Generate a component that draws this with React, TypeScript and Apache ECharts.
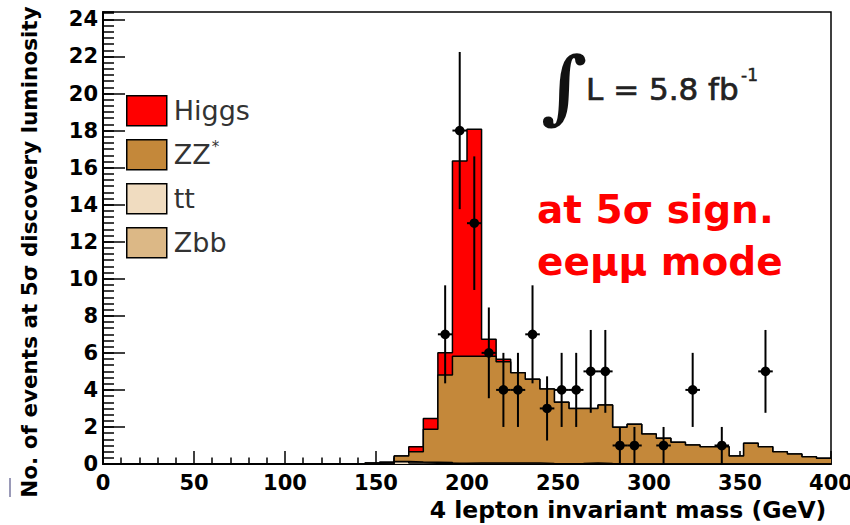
import { useEffect, useRef } from 'react';
import * as echarts from 'echarts';

// Histogram binning: 50 bins of 8 GeV from 0 to 400 GeV
const BIN_WIDTH = 8;
const X_MIN = 0;
const X_MAX = 400;

// Per-bin expected events (bin i covers [8i, 8i+8])
const ttValues = [
  0, 0, 0, 0, 0, 0, 0, 0, 0, 0,
  0, 0, 0, 0, 0, 0, 0, 0, 0, 0.02,
  0.12, 0.06, 0.04, 0.03, 0, 0, 0, 0, 0, 0,
  0, 0, 0, 0, 0, 0, 0, 0, 0, 0,
  0, 0, 0, 0, 0, 0, 0, 0, 0, 0,
];
const zbbValues = [
  0, 0, 0, 0, 0, 0, 0, 0, 0, 0,
  0, 0, 0, 0, 0, 0, 0, 0, 0, 0.02,
  0.02, 0.05, 0.06, 0.05, 0.04, 0.05, 0.05, 0.06, 0.05, 0.05,
  0.03, 0.02, 0.03, 0.05, 0.03, 0.02, 0, 0, 0, 0,
  0, 0, 0, 0, 0, 0, 0, 0, 0, 0,
];
const zzValues = [
  0, 0, 0, 0, 0, 0, 0, 0, 0, 0,
  0, 0, 0, 0, 0, 0, 0, 0, 0.05, 0.06,
  0.29, 0.55, 1.77, 4.72, 5.78, 5.77, 5.77, 5.46, 4.88, 4.53,
  4.02, 3.31, 2.97, 2.95, 3.15, 1.96, 2.14, 1.62, 1.39, 1.17,
  1.02, 0.93, 0.93, 0.43, 1.12, 0.93, 0.66, 0.54, 0.39, 0.31,
];
const higgsValues = [
  0, 0, 0, 0, 0, 0, 0, 0, 0, 0,
  0, 0, 0, 0, 0, 0, 0, 0, 0, 0,
  0, 0.27, 0.59, 1.2, 10.54, 12.25, 0.91, 0.13, 0, 0,
  0, 0, 0, 0, 0, 0, 0, 0, 0, 0,
  0, 0, 0, 0, 0, 0, 0, 0, 0, 0,
];

// Observed (pseudo-)data: bin centres and counts
const dataMass = [188, 196, 204, 212, 220, 228, 236, 244, 252, 260, 268, 276, 284, 292, 308, 324, 340, 364];
const dataCounts = [7, 18, 13, 6, 4, 4, 7, 3, 4, 4, 5, 5, 1, 1, 1, 4, 1, 5];

const COLORS = {
  higgs: '#ff0000',
  zz: '#c4883a',
  tt: '#f0dcc0',
  zbb: '#dcb886',
};

const cumulative = (...arrs: number[][]) =>
  arrs[0].map((_, i) => +arrs.reduce((s, a) => s + a[i], 0).toFixed(4));

const stepData = (vals: number[]) => {
  const pts = vals.map((v, i) => [X_MIN + i * BIN_WIDTH, v]);
  pts.push([X_MIN + vals.length * BIN_WIDTH, vals[vals.length - 1]]);
  return pts;
};

const histSeries = (name: string, vals: number[], fill: string, z: number) => ({
  type: 'line',
  name,
  data: stepData(vals),
  step: 'end',
  showSymbol: false,
  symbol: 'none',
  silent: true,
  z,
  lineStyle: { color: '#000', width: 1.5 },
  itemStyle: { color: fill },
  areaStyle: { color: fill, opacity: 1 },
});

const FONT = 'DejaVu Sans';

export default function App() {
  const ref = useRef<HTMLDivElement>(null);

  useEffect(() => {
    if (!ref.current) return;
    const chart = echarts.init(ref.current, null, { renderer: 'svg' });

    const ttCum = cumulative(ttValues);
    const zbbCum = cumulative(ttValues, zbbValues);
    const zzCum = cumulative(ttValues, zbbValues, zzValues);
    const higgsCum = cumulative(ttValues, zbbValues, zzValues, higgsValues);

    const option: any = {
      animation: false,
      backgroundColor: '#fff',
      grid: {
        left: 103,
        right: 19,
        top: 12,
        bottom: 61,
        containLabel: false,
        outerBoundsMode: 'none',
        show: true,
        borderColor: '#000',
        borderWidth: 1.5,
        backgroundColor: 'transparent',
      },
      legend: {
        orient: 'vertical',
        left: 126,
        top: 95,
        padding: 0,
        itemWidth: 40,
        itemHeight: 30,
        itemGap: 12.5,
        icon: 'rect',
        selectedMode: false,
        formatter: (n: string) => (n === 'ZZ*' ? 'ZZ{s|*}' : n),
        textStyle: {
          fontFamily: FONT,
          fontSize: 27,
          color: '#333',
          padding: [0, 0, 0, 2],
          rich: {
            s: { fontFamily: FONT, fontSize: 15, color: '#333', verticalAlign: 'top', padding: [0, 0, 16, 1] },
          },
        },
        data: [
          { name: 'Higgs', itemStyle: { color: COLORS.higgs, borderColor: '#000', borderWidth: 1.5 } },
          { name: 'ZZ*', itemStyle: { color: COLORS.zz, borderColor: '#000', borderWidth: 1.5 } },
          { name: 'tt', itemStyle: { color: COLORS.tt, borderColor: '#000', borderWidth: 1.5 } },
          { name: 'Zbb', itemStyle: { color: COLORS.zbb, borderColor: '#000', borderWidth: 1.5 } },
        ],
      },
      xAxis: {
        type: 'value',
        min: X_MIN,
        max: X_MAX,
        interval: 50,
        name: '4 lepton invariant mass (GeV)',
        nameLocation: 'middle',
        nameGap: 29,
        nameTextStyle: {
          fontFamily: FONT,
          fontWeight: 'bold',
          fontSize: 23.5,
          color: '#000',
          verticalAlign: 'top',
          padding: [0, 0, 0, 322],
        },
        axisLine: { show: true, lineStyle: { color: '#000', width: 2 } },
        axisTick: { show: true, inside: true, length: 13, lineStyle: { color: '#000', width: 1.5 } },
        minorTick: { show: true, splitNumber: 5, length: 6.5, lineStyle: { color: '#000', width: 1.5 } },
        splitLine: { show: false },
        minorSplitLine: { show: false },
        axisLabel: {
          fontFamily: FONT,
          fontWeight: 'bold',
          fontSize: 21,
          color: '#000',
          margin: 8,
        },
      },
      yAxis: [
        {
          type: 'value',
          min: 0,
          max: 24.4,
          interval: 2,
          name: 'No. of events at 5σ discovery luminosity',
          nameLocation: 'middle',
          nameGap: 63,
          nameTextStyle: {
            fontFamily: FONT,
            fontWeight: 'bold',
            fontSize: 21.5,
            color: '#000',
            padding: [0, 28, 0, 0],
          },
          axisLine: { show: true, lineStyle: { color: '#000', width: 2 } },
          axisTick: { show: true, inside: true, length: 22, lineStyle: { color: '#000', width: 1.5 } },
          splitLine: { show: false },
          axisLabel: {
            showMaxLabel: false,
            fontFamily: FONT,
            fontWeight: 'bold',
            fontSize: 21,
            color: '#000',
            margin: 5,
            formatter: (v: number) => (Math.abs(v - Math.round(v)) < 1e-6 ? String(Math.round(v)) : ''),
          },
        },
        {
          // minor ticks of the y axis (6 subdivisions per major step)
          type: 'value',
          min: 0,
          max: 24.4,
          interval: 2 / 6,
          position: 'left',
          axisLine: { show: false },
          axisTick: { show: true, inside: true, length: 11, lineStyle: { color: '#000', width: 1.5 } },
          axisLabel: { show: false },
          splitLine: { show: false },
        },
      ],
      series: [
        histSeries('Higgs', higgsCum, COLORS.higgs, 2),
        histSeries('ZZ*', zzCum, COLORS.zz, 3),
        histSeries('Zbb', zbbCum, COLORS.zbb, 4),
        histSeries('tt', ttCum, COLORS.tt, 5),
        {
          type: 'custom',
          name: 'data',
          z: 10,
          silent: true,
          encode: { x: 0, y: 1 },
          data: dataMass.map((m, i) => [m, dataCounts[i]]),
          renderItem: (_params: any, api: any) => {
            const x = api.value(0);
            const y = api.value(1);
            const e = Math.sqrt(y);
            const c = api.coord([x, y]);
            const top = api.coord([x, y + e]);
            const bot = api.coord([x, Math.max(0, y - e)]);
            const l = api.coord([x - BIN_WIDTH / 2, y]);
            const r = api.coord([x + BIN_WIDTH / 2, y]);
            return {
              type: 'group',
              children: [
                { type: 'line', shape: { x1: c[0], y1: top[1], x2: c[0], y2: bot[1] }, style: { stroke: '#000', lineWidth: 2 } },
                { type: 'line', shape: { x1: l[0], y1: c[1], x2: r[0], y2: c[1] }, style: { stroke: '#000', lineWidth: 2 } },
                { type: 'circle', shape: { cx: c[0], cy: c[1], r: 4.8 }, style: { fill: '#000' } },
              ],
            };
          },
        },
      ],
      graphic: [
        {
          type: 'text',
          x: 541,
          y: 46,
          style: { text: '∫', font: 'bold 80px "DejaVu Serif"', fill: '#111', verticalAlign: 'top' },
        },
        {
          type: 'text',
          x: 586,
          y: 73,
          style: { text: 'L = 5.8 fb', font: 'normal 31px "DejaVu Sans"', fill: '#222', stroke: '#222', lineWidth: 0.7, verticalAlign: 'top' },
        },
        {
          type: 'text',
          x: 741,
          y: 66,
          style: { text: '-1', font: 'normal 17px "DejaVu Sans"', fill: '#222', stroke: '#222', lineWidth: 0.5, verticalAlign: 'top' },
        },
        {
          type: 'text',
          x: 537,
          y: 190,
          style: { text: 'at 5σ sign.', font: 'bold 39px "DejaVu Sans"', fill: '#ff0000', verticalAlign: 'top' },
        },
        {
          type: 'text',
          x: 537,
          y: 242,
          style: { text: 'eeμμ mode', font: 'bold 39px "DejaVu Sans"', fill: '#ff0000', verticalAlign: 'top' },
        },
        {
          type: 'line',
          shape: { x1: 10, y1: 478, x2: 10, y2: 497 },
          style: { stroke: '#9a9ab8', lineWidth: 2 },
        },
      ],
    };

    chart.setOption(option);
    return () => chart.dispose();
  }, []);

  return (
    <div
      ref={ref}
      style={{ position: 'fixed', left: 0, top: 0, width: 850, height: 525, background: '#fff' }}
    />
  );
}
